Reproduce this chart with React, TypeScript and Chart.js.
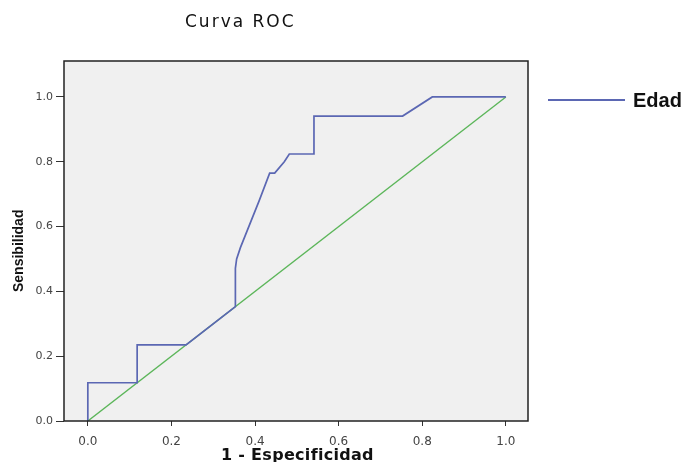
import React, { useEffect, useRef } from "react";
import { Chart, registerables } from "chart.js";

Chart.register(...registerables);

// ROC curve for "Edad" (x = 1 - Especificidad, y = Sensibilidad)
const rocX = [0, 0, 0.118, 0.118, 0.235, 0.353, 0.353, 0.356, 0.365, 0.41, 0.435, 0.447, 0.47, 0.482, 0.541, 0.541, 0.753, 0.824, 1.0];
const rocY = [0, 0.118, 0.118, 0.235, 0.235, 0.353, 0.471, 0.5, 0.535, 0.68, 0.765, 0.765, 0.8, 0.824, 0.824, 0.941, 0.941, 1.0, 1.0];
// Reference (diagonal) line
const refX = [0, 1];
const refY = [0, 1];

const xTicks = [0, 0.2, 0.4, 0.6, 0.8, 1.0];
const yTicks = [0, 0.2, 0.4, 0.6, 0.8, 1.0];

const chartTitle = "Curva ROC";
const xTitle = "1 - Especificidad";
const yTitle = "Sensibilidad";
const seriesName = "Edad";

const ROC_COLOR = "#5b67b3";
const REF_COLOR = "#5cb65a";

const decorPlugin = {
  id: "decor",
  beforeDatasetsDraw(chart: any) {
    const { ctx, chartArea: a } = chart;
    ctx.save();
    ctx.fillStyle = "#f0f0f0";
    ctx.fillRect(a.left, a.top, a.right - a.left, a.bottom - a.top);
    ctx.restore();
  },
  afterDraw(chart: any) {
    const { ctx, chartArea: a } = chart;
    ctx.save();
    // frame
    ctx.strokeStyle = "#222";
    ctx.lineWidth = 1.5;
    ctx.strokeRect(a.left, a.top, a.right - a.left, a.bottom - a.top);

    // title
    ctx.fillStyle = "#111";
    ctx.textAlign = "left";
    ctx.textBaseline = "alphabetic";
    ctx.font = "17px 'DejaVu Sans'";
    (ctx as any).letterSpacing = "2px";
    ctx.fillText(chartTitle, 185, 27);

    // x axis title
    ctx.font = "bold 16px 'DejaVu Sans'";
    (ctx as any).letterSpacing = "0.3px";
    ctx.fillText(xTitle, 221, 460);

    // y axis title
    (ctx as any).letterSpacing = "0px";
    ctx.font = "bold 14px 'Liberation Sans'";
    ctx.save();
    ctx.translate(23, 292);
    ctx.rotate(-Math.PI / 2);
    ctx.fillText(yTitle, 0, 0);
    ctx.restore();

    // legend
    ctx.strokeStyle = ROC_COLOR;
    ctx.lineWidth = 2;
    ctx.beginPath();
    ctx.moveTo(548, 100);
    ctx.lineTo(625, 100);
    ctx.stroke();
    ctx.fillStyle = "#111";
    ctx.font = "bold 20px 'Liberation Sans'";
    ctx.fillText(seriesName, 633, 106.5);
    ctx.restore();
  },
};

export default function App() {
  const ref = useRef<HTMLCanvasElement>(null);

  useEffect(() => {
    if (!ref.current) return;
    const chart = new Chart(ref.current, {
      type: "scatter",
      data: {
        datasets: [
          {
            label: seriesName,
            data: rocX.map((x, i) => ({ x, y: rocY[i] })),
            showLine: true,
            borderColor: ROC_COLOR,
            borderWidth: 1.7,
            pointRadius: 0,
            tension: 0,
          },
          {
            label: "Referencia",
            data: refX.map((x, i) => ({ x, y: refY[i] })),
            showLine: true,
            borderColor: REF_COLOR,
            borderWidth: 1.4,
            pointRadius: 0,
            tension: 0,
          },
        ],
      },
      options: {
        responsive: false,
        animation: false,
        layout: { padding: { left: 0, top: 61, right: 158, bottom: 0 } },
        plugins: {
          legend: { display: false },
          title: { display: false },
          tooltip: { enabled: false },
        },
        scales: {
          x: {
            type: "linear",
            min: -0.057,
            max: 1.053,
            afterBuildTicks: (s: any) => {
              s.ticks = xTicks.map((v) => ({ value: v }));
            },
            afterFit: (s: any) => {
              s.height = 41;
            },
            grid: { drawOnChartArea: false, tickLength: 5, color: "#333", lineWidth: 1 },
            border: { display: false },
            ticks: {
              padding: 9,
              color: "#444",
              font: { family: "'DejaVu Sans'", size: 12 },
              callback: (v: any) => Number(v).toFixed(1),
            },
          },
          y: {
            type: "linear",
            min: 0,
            max: 1.111,
            afterBuildTicks: (s: any) => {
              s.ticks = yTicks.map((v) => ({ value: v }));
            },
            afterFit: (s: any) => {
              s.width = 64;
            },
            grid: { drawOnChartArea: false, tickLength: 8, color: "#333", lineWidth: 1 },
            border: { display: false },
            ticks: {
              padding: 3,
              color: "#444",
              font: { family: "'DejaVu Sans'", size: 11 },
              callback: (v: any) => Number(v).toFixed(1),
            },
          },
        },
      },
      plugins: [decorPlugin],
    });
    return () => chart.destroy();
  }, []);

  return (
    <div style={{ position: "absolute", left: 0, top: 0, width: 686, height: 462 }}>
      <canvas ref={ref} width={686} height={462} />
    </div>
  );
}
